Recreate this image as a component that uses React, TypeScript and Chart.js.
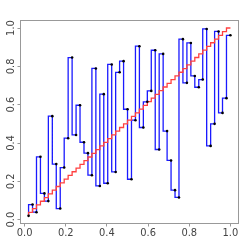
import React, { useEffect, useRef } from 'react';
import { Chart, registerables } from 'chart.js';

Chart.register(...registerables);

// x positions (i / 52)
const xValues = [
  0.0192, 0.0385, 0.0577, 0.0769, 0.0962, 0.1154, 0.1346, 0.1538, 0.1731, 0.1923,
  0.2115, 0.2308, 0.25, 0.2692, 0.2885, 0.3077, 0.3269, 0.3462, 0.3654, 0.3846,
  0.4038, 0.4231, 0.4423, 0.4615, 0.4808, 0.5, 0.5192, 0.5385, 0.5577, 0.5769,
  0.5962, 0.6154, 0.6346, 0.6538, 0.6731, 0.6923, 0.7115, 0.7308, 0.75, 0.7692,
  0.7885, 0.8077, 0.8269, 0.8462, 0.8654, 0.8846, 0.9038, 0.9231, 0.9423, 0.9615,
  0.9808, 1.0,
];

// blue step series values
const stepValues = [
  0.020, 0.079, 0.039, 0.328, 0.137, 0.097, 0.540, 0.290, 0.058, 0.272,
  0.425, 0.846, 0.442, 0.597, 0.404, 0.347, 0.232, 0.789, 0.176, 0.655,
  0.190, 0.810, 0.249, 0.769, 0.827, 0.576, 0.211, 0.519, 0.905, 0.481,
  0.615, 0.672, 0.884, 0.366, 0.865, 0.462, 0.309, 0.154, 0.116, 0.942,
  0.714, 0.922, 0.750, 0.691, 0.731, 0.995, 0.385, 0.500, 0.982, 0.557,
  0.634, 0.962,
];

// red diagonal staircase values
const diagonalValues = [
  0.0192, 0.0385, 0.0577, 0.0769, 0.0962, 0.1154, 0.1346, 0.1538, 0.1731, 0.1923,
  0.2115, 0.2308, 0.25, 0.2692, 0.2885, 0.3077, 0.3269, 0.3462, 0.3654, 0.3846,
  0.4038, 0.4231, 0.4423, 0.4615, 0.4808, 0.5, 0.5192, 0.5385, 0.5577, 0.5769,
  0.5962, 0.6154, 0.6346, 0.6538, 0.6731, 0.6923, 0.7115, 0.7308, 0.75, 0.7692,
  0.7885, 0.8077, 0.8269, 0.8462, 0.8654, 0.8846, 0.9038, 0.9231, 0.9423, 0.9615,
  0.9808, 1.0,
];

const tickValues = [0, 0.2, 0.4, 0.6, 0.8, 1.0];
const tickLabels = ['0.0', '0.2', '0.4', '0.6', '0.8', '1.0'];

const FONT = "'Liberation Sans Narrow', 'DejaVu Sans Condensed', 'Liberation Sans', sans-serif";

export default function App() {
  const ref = useRef<HTMLCanvasElement>(null);

  useEffect(() => {
    document.body.style.margin = '0';
    const canvas = ref.current;
    if (!canvas) return;

    const boxPlugin = {
      id: 'plotBox',
      afterDraw(chart: any) {
        const { ctx, chartArea: a } = chart;
        ctx.save();
        ctx.strokeStyle = '#999999';
        ctx.lineWidth = 1;
        ctx.strokeRect(a.left, a.top, a.right - a.left, a.bottom - a.top);
        ctx.restore();
      },
    };

    const toPts = (ys: number[]) => xValues.map((x, i) => ({ x, y: ys[i] }));
    const labelFor = (v: any) => {
      const idx = tickValues.findIndex((t) => Math.abs(t - Number(v)) < 1e-9);
      return idx >= 0 ? tickLabels[idx] : '';
    };

    const chart = new Chart(canvas, {
      type: 'line',
      data: {
        datasets: [
          {
            label: 'points',
            data: toPts(stepValues),
            showLine: false,
            pointRadius: 1.3,
            pointBackgroundColor: '#000000',
            pointBorderWidth: 0,
            order: 0,
          },
          {
            label: 'diagonal',
            data: toPts(diagonalValues),
            stepped: 'after',
            borderColor: '#ff4040',
            borderWidth: 1.3,
            pointRadius: 0,
            fill: false,
            order: 1,
          },
          {
            label: 'steps',
            data: toPts(stepValues),
            stepped: 'after',
            borderColor: '#1a1aff',
            borderWidth: 1.3,
            pointRadius: 0,
            fill: false,
            order: 2,
          },
        ],
      } as any,
      options: {
        responsive: false,
        animation: false,
        layout: { padding: { top: 20.5, right: 10.5, left: 0, bottom: 0 } },
        plugins: { legend: { display: false }, tooltip: { enabled: false } },
        elements: { line: { tension: 0 } },
        scales: {
          x: {
            type: 'linear',
            min: -0.02,
            max: 1.0392,
            afterBuildTicks: (s: any) => {
              s.ticks = tickValues.map((v) => ({ value: v }));
            },
            afterFit: (s: any) => {
              s.height = 25.5;
            },
            grid: { display: true, drawOnChartArea: false, drawTicks: true, tickLength: 3, color: '#999999' },
            border: { display: false },
            ticks: {
              callback: labelFor,
              font: { family: FONT, size: 11 },
              color: '#444444',
              padding: 0,
              maxRotation: 0,
              autoSkip: false,
            },
          },
          y: {
            type: 'linear',
            min: -0.02,
            max: 1.0392,
            afterBuildTicks: (s: any) => {
              s.ticks = tickValues.map((v) => ({ value: v }));
            },
            afterFit: (s: any) => {
              s.width = 20.5;
            },
            grid: { display: true, drawOnChartArea: false, drawTicks: true, tickLength: 3, color: '#999999' },
            border: { display: false },
            ticks: {
              callback: labelFor,
              font: { family: FONT, size: 11 },
              color: '#444444',
              padding: -2,
              minRotation: 90,
              maxRotation: 90,
              crossAlign: 'center',
              autoSkip: false,
            },
          },
        },
      } as any,
      plugins: [boxPlugin],
    });

    return () => chart.destroy();
  }, []);

  return <canvas ref={ref} width={249} height={249} style={{ display: 'block' }} />;
}
